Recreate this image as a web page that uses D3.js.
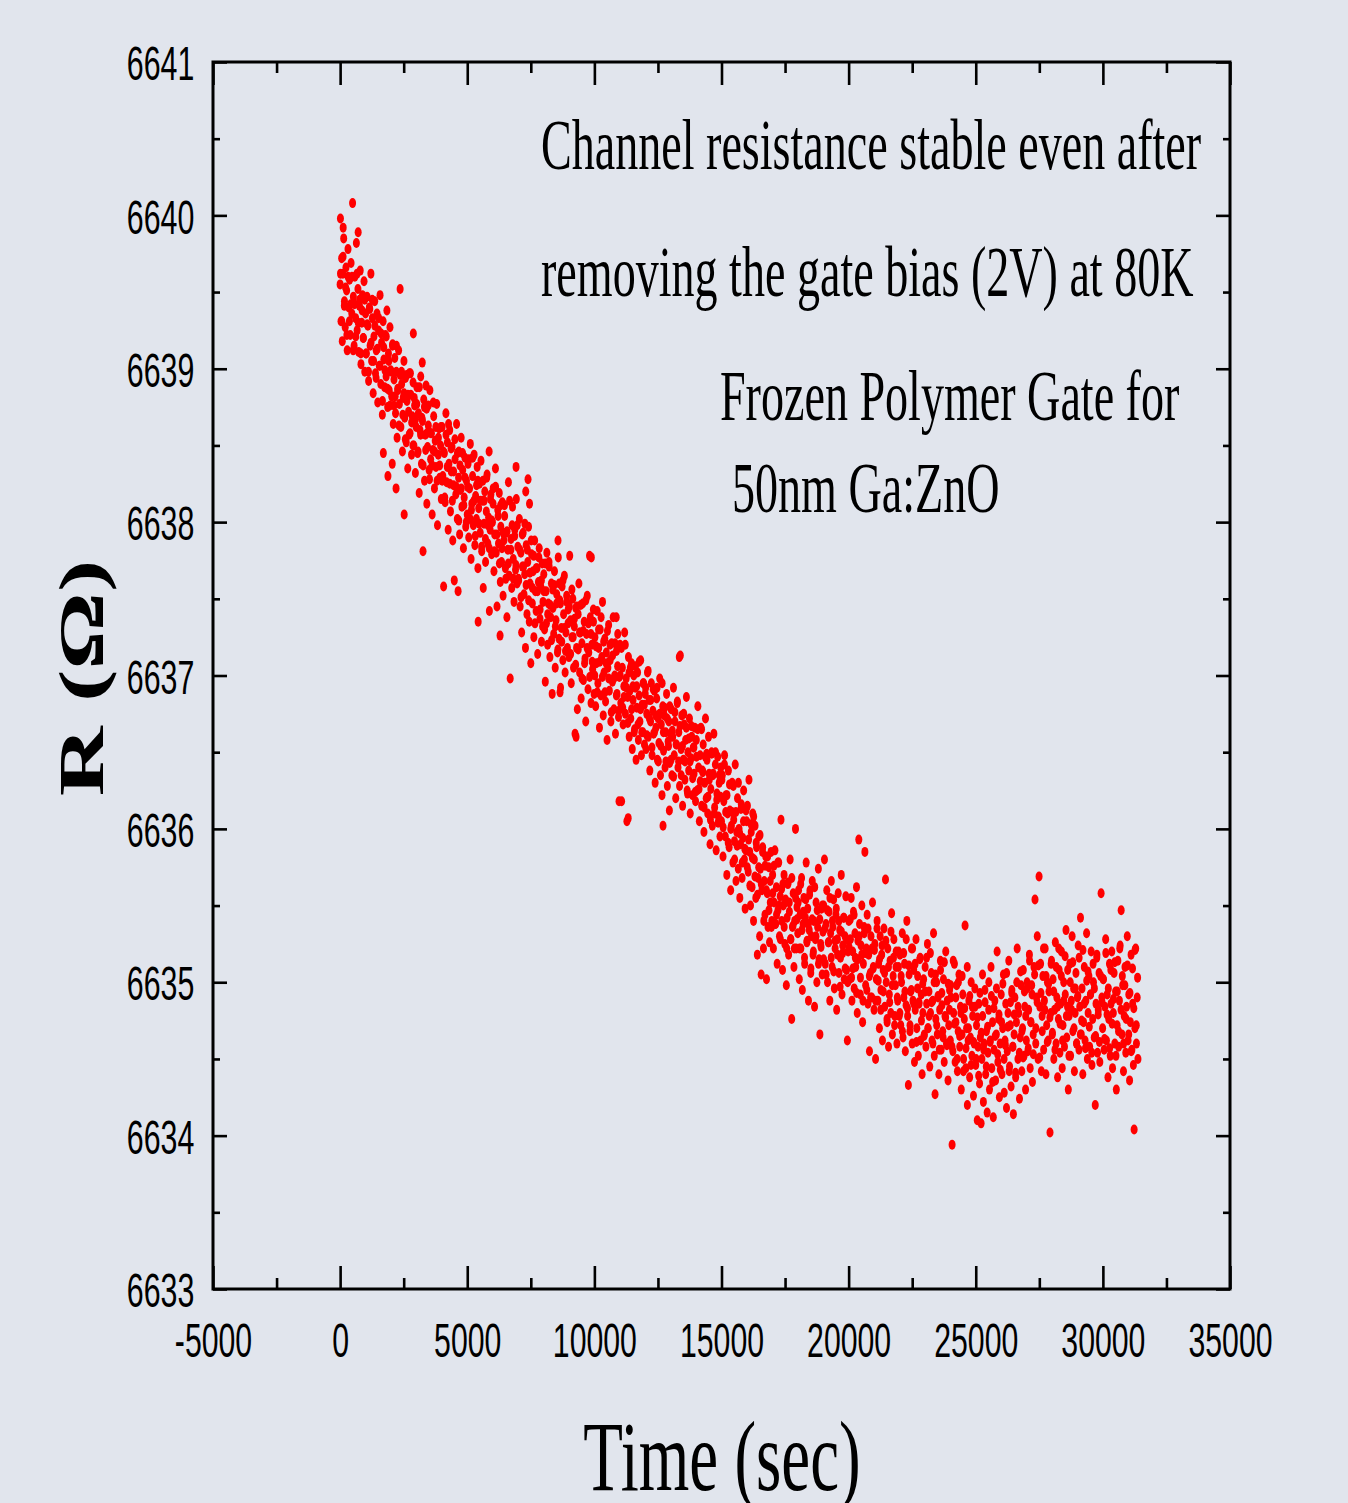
<!DOCTYPE html>
<html>
<head>
<meta charset="utf-8">
<script src="https://cdn.jsdelivr.net/npm/d3@7"></script>
<style>
html, body { margin: 0; padding: 0; background: #e1e5ed; }
svg { display: block; }
</style>
</head>
<body>
<div class="vis"></div>
<script>
// axis ticks
const xTicks = [-5000, 0, 5000, 10000, 15000, 20000, 25000, 30000, 35000];
const xMinorTicks = [-2500, 2500, 7500, 12500, 17500, 22500, 27500, 32500];
const yTicks = [6633, 6634, 6635, 6636, 6637, 6638, 6639, 6640, 6641];
const yMinorTicks = [6633.5, 6634.5, 6635.5, 6636.5, 6637.5, 6638.5, 6639.5, 6640.5];

const noteLines = [
    "Channel resistance stable even after",
    "removing the gate bias (2V) at 80K",
    "Frozen Polymer Gate for",
    "50nm Ga:ZnO"
];

// [time (sec), R (ohm)]
const readings = [
[0,6639.55],[12,6639.98],[35,6639.31],[60,6639.72],[85,6639.18],[110,6639.62],[120,6639.92],[140,6639.85],[170,6639.44],[200,6639.27],[230,6639.66],[255,6639.51],[280,6639.12],[310,6639.78],[340,6639.40],[370,6639.58],[400,6639.22],[430,6639.69],[460,6639.36],[490,6640.08],[520,6639.47],[550,6639.15],[580,6639.60],[610,6639.33],[640,6639.82],[670,6639.25],[700,6639.52],[710,6639.89],[730,6639.11],[760,6639.41],[790,6639.64],[820,6639.03],[850,6639.30],[880,6639.48],[910,6639.20],[940,6639.57],[970,6638.98],[1000,6639.36],
[1030,6639.10],[1060,6639.47],[1090,6639.28],[1120,6638.92],[1150,6639.40],[1180,6639.15],[1210,6639.62],[1240,6639.05],[1270,6639.33],[1300,6638.84],[1330,6639.21],[1360,6639.44],[1390,6638.97],[1420,6639.12],[1450,6639.36],[1480,6638.78],[1510,6639.25],[1540,6639.02],[1570,6639.48],[1600,6638.90],[1630,6639.17],[1660,6638.70],[1690,6639.31],[1700,6638.45],[1720,6639.06],[1750,6638.88],[1780,6639.22],[1810,6638.95],[1840,6639.38],[1870,6638.75],[1880,6638.30],[1900,6639.10],[1930,6638.86],[1960,6639.27],[1990,6638.99],
[2030,6638.82],[2050,6638.38],[2060,6639.15],[2090,6638.64],[2120,6638.93],[2150,6639.07],[2180,6638.71],[2200,6638.22],[2210,6638.98],[2240,6638.55],[2270,6638.86],[2300,6639.12],[2330,6638.77],[2360,6639.52],[2390,6638.62],[2420,6638.90],[2450,6638.46],[2480,6638.81],[2510,6639.05],[2520,6638.05],[2540,6638.68],[2570,6638.94],[2600,6638.52],[2630,6638.79],[2660,6638.35],[2690,6638.72],[2720,6638.97],[2750,6638.58],[2780,6638.83],[2810,6638.44],[2840,6638.69],[2870,6638.91],[2880,6639.23],[2900,6638.50],[2930,6638.76],[2960,6638.32],[2990,6638.62],
[3020,6638.88],[3050,6638.45],[3080,6638.71],[3110,6638.19],[3140,6638.60],[3170,6638.95],[3200,6638.38],[3230,6639.04],[3240,6638.66],[3260,6637.81],[3290,6638.80],[3320,6638.27],[3350,6638.57],[3380,6638.89],[3400,6638.74],[3410,6638.12],[3440,6638.49],[3470,6638.63],[3500,6638.34],[3530,6638.86],[3560,6638.41],[3590,6638.58],[3620,6638.05],[3650,6638.47],[3680,6638.69],[3710,6638.22],[3740,6638.53],[3770,6638.36],[3800,6638.77],[3830,6637.98],[3860,6638.44],[3890,6638.61],[3920,6638.29],[3950,6638.50],[3980,6638.15],
[4010,6638.62],[4040,6638.30],[4070,6637.58],[4100,6638.45],[4130,6638.13],[4160,6638.71],[4190,6638.26],[4220,6638.52],[4250,6637.95],[4280,6638.38],[4310,6638.60],[4340,6638.07],[4370,6638.33],[4400,6638.49],[4430,6637.88],[4460,6638.24],[4490,6637.62],[4520,6638.41],[4550,6638.18],[4580,6638.64],[4610,6638.02],[4640,6637.55],[4660,6638.29],[4670,6638.46],[4700,6637.92],[4730,6638.21],[4760,6638.55],[4790,6638.10],[4820,6638.34],[4850,6637.83],[4880,6638.16],[4910,6638.42],[4940,6637.97],[4970,6638.27],
[5000,6638.05],[5030,6638.38],[5060,6637.90],[5090,6638.22],[5120,6638.51],[5150,6637.76],[5180,6638.12],[5210,6638.30],[5240,6637.98],[5270,6638.44],[5300,6637.85],[5330,6638.17],[5360,6638.02],[5390,6638.36],[5420,6637.70],[5430,6637.35],[5450,6638.09],[5480,6638.25],[5510,6637.93],[5540,6638.40],[5570,6637.81],[5600,6638.14],[5630,6637.57],[5660,6637.99],[5690,6638.20],[5720,6637.74],[5750,6638.07],[5780,6638.31],[5810,6637.86],[5840,6638.03],[5860,6638.46],[5870,6637.42],[5900,6637.95],[5930,6638.18],[5960,6637.79],[5990,6638.00],
[6020,6638.22],[6050,6637.68],[6080,6637.92],[6110,6638.35],[6140,6637.80],[6170,6637.45],[6200,6638.08],[6230,6637.86],[6260,6638.19],[6290,6637.26],[6300,6637.61],[6320,6637.97],[6350,6637.74],[6380,6638.13],[6410,6637.52],[6440,6637.88],[6470,6638.04],[6500,6637.70],[6530,6637.93],[6560,6637.38],[6590,6637.82],[6620,6638.26],[6650,6637.65],[6690,6636.98],[6720,6637.89],[6750,6637.57],[6780,6638.10],[6810,6637.76],[6840,6637.48],[6870,6637.95],[6900,6637.69],[6920,6638.36],[6930,6638.15],[6960,6637.60],[6990,6637.84],
[7020,6637.62],[7050,6638.02],[7080,6637.45],[7110,6637.80],[7140,6637.28],[7170,6637.71],[7200,6637.93],[7230,6637.53],[7260,6637.66],[7290,6637.18],[7300,6638.20],[7320,6637.85],[7350,6637.40],[7380,6637.74],[7390,6638.28],[7410,6637.97],[7440,6637.35],[7450,6638.12],[7470,6637.60],[7500,6637.08],[7530,6637.79],[7560,6637.47],[7590,6637.68],[7620,6637.25],[7650,6637.88],[7680,6637.55],[7710,6637.42],[7740,6637.70],[7770,6637.14],[7800,6637.61],[7830,6637.83],[7860,6637.37],[7890,6637.58],[7920,6637.22],[7950,6637.73],[7980,6637.48],
[8010,6637.66],[8040,6637.30],[8070,6636.96],[8100,6637.55],[8130,6637.80],[8160,6637.20],[8190,6637.47],[8220,6637.71],[8250,6637.12],[8280,6637.38],[8310,6637.60],[8340,6636.88],[8370,6637.44],[8400,6637.27],[8430,6637.68],[8460,6637.05],[8490,6637.36],[8520,6637.53],[8550,6637.15],[8570,6637.88],[8580,6637.77],[8610,6637.24],[8640,6637.49],[8650,6636.89],[8670,6636.92],[8700,6637.31],[8730,6637.58],[8760,6637.10],[8790,6637.40],[8820,6637.65],[8850,6637.02],[8880,6637.28],[8910,6637.52],[8940,6637.18],[8970,6637.43],
[9000,6637.12],[9030,6637.78],[9060,6637.36],[9090,6636.95],[9120,6637.25],[9150,6637.50],[9180,6637.05],[9210,6637.32],[9240,6636.62],[9270,6637.44],[9280,6636.60],[9300,6637.18],[9330,6636.78],[9360,6637.40],[9390,6637.60],[9420,6637.02],[9450,6637.28],[9480,6636.85],[9510,6637.21],[9540,6637.47],[9570,6636.97],[9600,6637.35],[9630,6637.11],[9660,6636.70],[9690,6637.27],[9720,6637.52],[9750,6636.91],[9780,6637.15],[9810,6637.78],[9840,6637.38],[9870,6636.82],[9880,6637.77],[9900,6637.20],[9930,6637.04],[9960,6637.43],[9990,6636.88],
[10020,6637.25],[10050,6636.80],[10080,6637.08],[10110,6637.42],[10140,6636.95],[10170,6637.18],[10200,6636.66],[10230,6637.30],[10260,6636.87],[10290,6637.12],[10320,6637.48],[10350,6636.74],[10380,6637.02],[10410,6637.24],[10440,6636.83],[10470,6637.15],[10500,6636.58],[10530,6637.05],[10560,6637.33],[10590,6636.90],[10620,6637.10],[10650,6636.70],[10680,6637.21],[10710,6636.96],[10740,6637.38],[10770,6636.78],[10800,6637.00],[10830,6636.62],[10860,6637.38],[10870,6637.16],[10890,6636.88],[10920,6637.27],[10950,6636.73],[10970,6636.18],[10980,6636.99],
[11010,6637.20],[11040,6636.82],[11070,6636.18],[11100,6637.05],[11130,6636.68],[11160,6636.93],[11190,6637.28],[11220,6636.75],[11250,6636.98],[11280,6636.05],[11310,6636.86],[11330,6636.07],[11340,6637.12],[11370,6636.60],[11400,6636.90],[11430,6636.72],[11460,6637.08],[11490,6636.52],[11520,6636.84],[11550,6637.00],[11580,6636.65],[11610,6636.92],[11640,6636.45],[11670,6636.79],[11700,6637.02],[11730,6636.58],[11760,6636.87],[11790,6636.70],[11820,6637.10],[11850,6636.48],[11880,6636.81],[11910,6636.63],[11940,6636.95],[11970,6636.55],
[12000,6636.88],[12030,6636.52],[12060,6636.75],[12090,6637.02],[12120,6636.60],[12150,6636.84],[12180,6636.38],[12210,6636.70],[12240,6636.95],[12270,6636.48],[12300,6636.77],[12330,6636.62],[12360,6636.90],[12390,6636.30],[12420,6636.66],[12450,6636.85],[12480,6636.45],[12510,6636.72],[12540,6636.56],[12570,6636.98],[12600,6636.35],[12630,6636.68],[12660,6636.22],[12690,6636.80],[12700,6636.02],[12720,6636.51],[12750,6636.74],[12780,6636.40],[12810,6636.63],[12840,6636.88],[12870,6636.28],[12900,6636.57],[12930,6636.70],[12950,6636.12],[12960,6636.43],[12990,6636.62],
[13020,6636.78],[13050,6636.35],[13080,6636.60],[13110,6636.92],[13140,6636.48],[13170,6636.70],[13200,6636.20],[13230,6636.55],[13260,6636.82],[13290,6636.40],[13320,6636.63],[13340,6637.12],[13350,6636.28],[13380,6637.13],[13410,6636.52],[13440,6636.74],[13470,6636.15],[13500,6636.45],[13530,6636.68],[13560,6636.32],[13590,6636.58],[13620,6636.86],[13650,6636.25],[13680,6636.50],[13710,6636.38],[13740,6636.72],[13770,6636.10],[13800,6636.46],[13830,6636.60],[13860,6636.22],[13890,6636.53],[13920,6636.36],[13950,6636.66],[13980,6636.18],
[14010,6636.58],[14040,6636.25],[14070,6636.80],[14100,6636.40],[14130,6636.05],[14160,6636.48],[14190,6636.66],[14220,6636.15],[14250,6636.38],[14280,6636.55],[14310,6635.98],[14340,6636.30],[14370,6636.72],[14400,6636.20],[14430,6636.45],[14460,6636.10],[14490,6636.60],[14520,6636.32],[14550,6635.90],[14580,6636.26],[14610,6636.50],[14640,6636.02],[14670,6636.36],[14700,6636.62],[14730,6636.14],[14760,6636.42],[14790,6635.86],[14820,6636.23],[14850,6636.47],[14880,6636.08],[14910,6636.30],[14940,6635.95],[14970,6636.40],
[15000,6636.05],[15030,6636.35],[15060,6635.82],[15090,6636.18],[15120,6636.48],[15150,6635.95],[15180,6636.22],[15210,6635.70],[15240,6636.10],[15270,6636.38],[15300,6635.88],[15330,6636.12],[15360,6635.60],[15390,6636.02],[15420,6636.30],[15450,6635.78],[15480,6636.06],[15510,6635.92],[15540,6636.42],[15570,6635.66],[15600,6635.98],[15630,6636.20],[15660,6635.74],[15690,6636.00],[15720,6635.55],[15750,6635.90],[15780,6636.16],[15810,6635.68],[15840,6635.94],[15870,6636.25],[15900,6635.80],[15930,6635.48],[15960,6635.86],[15990,6636.05],
[16020,6636.15],[16050,6635.72],[16080,6636.32],[16110,6635.85],[16140,6635.50],[16170,6635.98],[16200,6635.62],[16230,6636.10],[16260,6635.40],[16290,6635.80],[16320,6636.02],[16350,6635.55],[16380,6635.88],[16410,6635.18],[16440,6635.68],[16470,6635.95],[16500,6635.30],[16530,6635.74],[16560,6635.05],[16590,6635.60],[16620,6635.88],[16650,6635.22],[16680,6635.66],[16710,6635.44],[16740,6635.82],[16770,6635.02],[16800,6635.58],[16830,6635.36],[16860,6635.75],[16890,6635.26],[16920,6635.52],[16950,6635.85],[16980,6635.40],
[17010,6635.70],[17040,6635.22],[17070,6635.52],[17100,6635.86],[17130,6635.38],[17160,6635.62],[17190,6635.12],[17220,6635.47],[17250,6635.78],[17280,6635.30],[17310,6635.56],[17340,6636.06],[17370,6635.40],[17400,6635.08],[17430,6635.50],[17460,6635.70],[17490,6635.25],[17520,6635.54],[17550,6634.98],[17580,6635.42],[17610,6635.64],[17640,6635.18],[17670,6635.46],[17700,6635.80],[17730,6635.28],[17760,6634.76],[17790,6635.36],[17820,6635.58],[17850,6635.10],[17880,6635.40],[17910,6636.00],[17940,6635.22],[17970,6635.49],
[18000,6635.32],[18030,6635.60],[18060,6635.02],[18090,6635.44],[18120,6635.22],[18150,6635.68],[18180,6634.95],[18210,6635.38],[18240,6635.55],[18270,6635.12],[18300,6635.42],[18330,6635.78],[18360,6635.26],[18390,6635.48],[18420,6634.88],[18450,6635.34],[18480,6635.60],[18510,6635.06],[18540,6635.30],[18570,6635.66],[18600,6635.18],[18630,6635.40],[18660,6634.84],[18690,6635.28],[18720,6635.52],[18750,6635.00],[18780,6635.36],[18810,6635.74],[18840,6635.15],[18870,6634.66],[18900,6635.25],[18930,6635.48],[18960,6635.05],[18990,6635.33],
[19020,6635.50],[19050,6635.80],[19080,6635.12],[19110,6635.38],[19140,6635.60],[19170,6635.00],[19200,6635.26],[19230,6635.46],[19260,6634.88],[19290,6635.32],[19320,6635.66],[19350,6635.10],[19380,6635.36],[19410,6635.54],[19440,6634.96],[19470,6635.22],[19500,6635.44],[19530,6634.82],[19560,6635.28],[19590,6635.58],[19620,6635.06],[19650,6635.34],[19680,6635.16],[19710,6635.70],[19740,6634.92],[19770,6635.24],[19800,6635.42],[19830,6635.02],[19860,6635.30],[19890,6635.56],[19920,6635.08],[19950,6634.62],[19980,6635.20],
[20010,6635.40],[20040,6635.02],[20070,6635.28],[20100,6635.55],[20130,6634.88],[20160,6635.20],[20190,6635.46],[20220,6634.96],[20250,6635.32],[20280,6635.10],[20310,6635.62],[20340,6634.80],[20370,6635.15],[20400,6635.93],[20430,6635.38],[20460,6634.92],[20490,6635.24],[20520,6635.50],[20550,6634.74],[20580,6635.12],[20610,6635.36],[20640,6635.85],[20670,6634.98],[20700,6635.22],[20730,6635.44],[20760,6634.86],[20790,6635.18],[20820,6634.55],[20850,6635.06],[20880,6635.30],[20910,6634.90],[20940,6635.52],[20970,6635.10],
[21000,6634.82],[21030,6635.25],[21060,6634.50],[21090,6635.02],[21120,6635.40],[21150,6634.88],[21180,6635.12],[21210,6634.70],[21240,6635.30],[21270,6634.95],[21300,6635.18],[21330,6634.62],[21360,6635.08],[21390,6635.35],[21420,6634.84],[21450,6635.67],[21480,6635.00],[21510,6634.76],[21540,6635.22],[21570,6634.58],[21600,6634.92],[21630,6635.14],[21660,6634.80],[21690,6635.45],[21720,6634.66],[21750,6635.04],[21780,6635.28],[21810,6634.72],[21840,6634.98],[21870,6635.20],[21900,6634.60],[21930,6634.88],[21960,6635.10],[21990,6634.78],
[22020,6635.18],[22050,6634.72],[22080,6635.00],[22110,6635.32],[22140,6634.64],[22170,6634.90],[22200,6635.12],[22230,6634.55],[22260,6634.85],[22290,6635.40],[22320,6634.78],[22350,6634.33],[22380,6635.05],[22410,6634.68],[22440,6634.94],[22470,6635.22],[22500,6634.60],[22530,6634.88],[22560,6635.08],[22590,6634.48],[22620,6634.82],[22650,6635.28],[22680,6634.70],[22710,6634.96],[22740,6634.52],[22770,6634.86],[22800,6635.15],[22830,6634.62],[22860,6634.92],[22890,6634.40],[22920,6634.80],[22950,6635.02],[22980,6634.66],
[23010,6635.10],[23040,6634.58],[23070,6634.86],[23100,6635.25],[23130,6634.70],[23160,6634.94],[23190,6634.45],[23220,6634.80],[23250,6635.06],[23280,6634.62],[23310,6634.88],[23340,6635.32],[23370,6634.52],[23400,6634.27],[23430,6634.76],[23460,6635.00],[23490,6634.66],[23520,6634.90],[23550,6634.40],[23580,6634.82],[23610,6635.14],[23640,6634.56],[23670,6634.85],[23700,6634.68],[23730,6635.02],[23760,6634.48],[23790,6634.78],[23820,6635.20],[23850,6634.60],[23880,6634.88],[23910,6634.36],[23940,6634.72],[23970,6634.95],
[24000,6634.62],[24030,6634.90],[24070,6633.94],[24100,6634.55],[24130,6634.80],[24160,6635.12],[24190,6634.48],[24220,6634.74],[24250,6634.98],[24280,6634.42],[24310,6634.68],[24340,6635.05],[24370,6634.58],[24400,6634.84],[24430,6634.30],[24460,6634.66],[24490,6634.92],[24520,6634.50],[24550,6634.76],[24580,6635.37],[24610,6634.44],[24640,6634.70],[24670,6634.20],[24700,6634.62],[24730,6634.88],[24760,6634.38],[24790,6634.64],[24820,6635.00],[24850,6634.52],[24880,6634.78],[24910,6634.26],[24940,6634.60],[24970,6634.84],
[25000,6634.46],[25030,6634.72],[25060,6634.10],[25090,6634.58],[25120,6634.86],[25150,6634.34],[25180,6634.64],[25210,6634.08],[25240,6634.50],[25270,6634.78],[25300,6634.22],[25330,6634.60],[25360,6634.95],[25390,6634.40],[25420,6634.68],[25450,6634.15],[25480,6634.54],[25510,6634.82],[25540,6634.30],[25570,6634.62],[25600,6635.10],[25630,6634.44],[25660,6634.74],[25690,6634.12],[25720,6634.56],[25750,6634.88],[25780,6634.36],[25810,6634.66],[25840,6635.20],[25870,6634.48],[25900,6634.76],[25930,6634.25],[25960,6634.60],
[26000,6634.92],[26030,6634.40],[26060,6634.70],[26090,6635.05],[26120,6634.28],[26150,6634.62],[26180,6634.86],[26210,6634.18],[26240,6634.55],[26270,6634.80],[26300,6635.14],[26330,6634.45],[26360,6634.72],[26390,6634.32],[26420,6634.95],[26450,6634.58],[26480,6634.14],[26510,6634.66],[26540,6634.90],[26570,6634.38],[26600,6634.74],[26630,6635.22],[26660,6634.50],[26690,6634.80],[26720,6634.24],[26750,6634.64],[26780,6634.98],[26810,6634.42],[26840,6634.70],[26870,6635.08],[26900,6634.52],[26930,6634.84],[26960,6634.30],[26990,6634.62],
[27020,6635.00],[27050,6634.55],[27080,6634.82],[27110,6635.18],[27140,6634.44],[27170,6634.74],[27200,6634.98],[27230,6634.35],[27260,6634.66],[27290,6635.10],[27330,6635.54],[27360,6634.60],[27390,6634.90],[27420,6635.30],[27450,6634.50],[27490,6635.69],[27520,6634.84],[27550,6635.12],[27580,6634.42],[27610,6634.78],[27640,6635.04],[27670,6634.56],[27700,6634.88],[27730,6635.22],[27760,6634.40],[27790,6634.72],[27820,6635.00],[27850,6634.62],[27880,6634.94],[27920,6634.02],[27950,6634.80],[27980,6635.14],
[28010,6634.66],[28040,6635.02],[28070,6634.50],[28100,6634.82],[28130,6635.26],[28160,6634.60],[28190,6634.90],[28220,6634.38],[28250,6634.76],[28280,6635.08],[28310,6634.54],[28340,6634.86],[28370,6635.20],[28400,6634.44],[28430,6634.72],[28460,6635.00],[28490,6634.58],[28520,6634.92],[28550,6635.34],[28580,6634.64],[28610,6634.84],[28640,6634.30],[28670,6634.78],[28700,6635.12],[28730,6634.52],[28760,6634.88],[28790,6635.30],[28820,6634.68],[28850,6634.96],[28880,6634.42],[28910,6634.80],[28940,6635.06],[28970,6634.60],
[29000,6634.90],[29030,6635.24],[29060,6634.56],[29090,6634.84],[29120,6635.42],[29150,6634.66],[29180,6634.96],[29210,6634.40],[29240,6634.74],[29270,6635.10],[29300,6634.62],[29330,6634.88],[29360,6635.32],[29390,6634.50],[29420,6634.80],[29450,6635.04],[29480,6634.58],[29510,6634.92],[29540,6635.20],[29570,6634.46],[29600,6634.76],[29630,6635.00],[29660,6634.64],[29700,6634.20],[29730,6634.86],[29760,6635.16],[29790,6634.54],[29820,6634.82],[29850,6635.06],[29880,6634.48],[29930,6635.58],[29960,6634.90],[29990,6634.70],
[30020,6635.02],[30050,6634.56],[30080,6634.84],[30110,6635.28],[30140,6634.62],[30170,6634.92],[30200,6634.38],[30230,6634.76],[30260,6635.12],[30290,6634.52],[30320,6634.86],[30350,6635.20],[30380,6634.44],[30410,6634.80],[30440,6635.06],[30470,6634.60],[30500,6634.94],[30530,6634.30],[30560,6634.72],[30590,6635.14],[30620,6634.58],[30650,6634.88],[30680,6635.24],[30720,6635.47],[30750,6634.66],[30780,6634.98],[30810,6634.42],[30840,6634.78],[30870,6635.10],[30900,6634.54],[30930,6634.84],[30960,6635.30],[30990,6634.62],
[31020,6634.92],[31050,6634.36],[31080,6634.74],[31110,6635.18],[31140,6634.56],[31170,6634.86],[31200,6634.46],[31230,6634.04],[31260,6634.70],[31290,6635.22],[31320,6634.60],[31350,6634.90],[31380,6634.50]
];

// in-between readings that fill the dense core of the band
const readingsCore = [
[15,6639.62],[65,6639.31],[115,6639.73],[165,6639.41],[215,6639.53],[265,6639.22],[315,6639.60],[365,6639.31],[415,6639.42],[465,6639.60],[515,6639.12],[565,6639.42],[615,6639.21],[665,6639.62],[715,6639.30],[765,6639.45],[815,6639.10],[865,6639.38],[915,6639.20],[965,6639.45],
[1015,6639.10],[1065,6639.29],[1115,6638.98],[1165,6639.39],[1215,6639.17],[1265,6639.45],[1315,6639.05],[1365,6639.28],[1415,6638.94],[1465,6639.13],[1515,6639.33],[1565,6639.02],[1615,6639.23],[1665,6638.79],[1715,6639.14],[1765,6638.99],[1815,6639.21],[1865,6638.87],[1915,6639.05],[1965,6638.76],
[2015,6638.98],[2065,6639.16],[2115,6638.76],[2165,6638.82],[2215,6639.15],[2265,6638.87],[2315,6638.63],[2365,6638.96],[2415,6638.98],[2465,6638.70],[2515,6638.84],[2565,6638.54],[2615,6638.96],[2665,6638.83],[2715,6638.57],[2765,6638.97],[2815,6638.65],[2865,6638.50],[2915,6638.81],[2965,6638.67],
[3015,6638.77],[3065,6638.46],[3115,6638.88],[3165,6638.57],[3215,6638.68],[3265,6638.37],[3315,6638.75],[3365,6638.47],[3415,6638.58],[3465,6638.76],[3515,6638.28],[3565,6638.58],[3615,6638.37],[3665,6638.78],[3715,6638.46],[3765,6638.62],[3815,6638.27],[3865,6638.55],[3915,6638.37],[3965,6638.62],
[4015,6638.27],[4065,6638.46],[4115,6638.16],[4165,6638.57],[4215,6638.36],[4265,6638.64],[4315,6638.25],[4365,6638.48],[4415,6638.14],[4465,6638.33],[4515,6638.54],[4565,6638.23],[4615,6638.45],[4665,6638.01],[4715,6638.37],[4765,6638.22],[4815,6638.45],[4865,6638.11],[4915,6638.29],[4965,6638.00],
[5015,6638.23],[5065,6638.41],[5115,6638.02],[5165,6638.08],[5215,6638.42],[5265,6638.14],[5315,6637.91],[5365,6638.24],[5415,6638.27],[5465,6637.99],[5515,6638.14],[5565,6637.84],[5615,6638.27],[5665,6638.14],[5715,6637.89],[5765,6638.29],[5815,6637.98],[5865,6637.83],[5915,6638.15],[5965,6638.01],
[6015,6638.12],[6065,6637.81],[6115,6638.23],[6165,6637.92],[6215,6638.04],[6265,6637.73],[6315,6638.11],[6365,6637.83],[6415,6637.93],[6465,6638.11],[6515,6637.63],[6565,6637.94],[6615,6637.73],[6665,6638.14],[6715,6637.82],[6765,6637.98],[6815,6637.63],[6865,6637.91],[6915,6637.72],[6965,6637.98],
[7015,6637.63],[7065,6637.82],[7115,6637.51],[7165,6637.92],[7215,6637.71],[7265,6637.99],[7315,6637.59],[7365,6637.82],[7415,6637.49],[7465,6637.67],[7515,6637.88],[7565,6637.57],[7615,6637.78],[7665,6637.34],[7715,6637.70],[7765,6637.55],[7815,6637.77],[7865,6637.43],[7915,6637.62],[7965,6637.32],
[8015,6637.55],[8065,6637.73],[8115,6637.34],[8165,6637.40],[8215,6637.74],[8265,6637.46],[8315,6637.23],[8365,6637.56],[8415,6637.59],[8465,6637.32],[8515,6637.47],[8565,6637.17],[8615,6637.60],[8665,6637.47],[8715,6637.22],[8765,6637.62],[8815,6637.31],[8865,6637.16],[8915,6637.48],[8965,6637.34],
[9015,6637.45],[9065,6637.14],[9115,6637.56],[9165,6637.25],[9215,6637.37],[9265,6637.07],[9315,6637.45],[9365,6637.17],[9415,6637.28],[9465,6637.46],[9515,6636.98],[9565,6637.29],[9615,6637.08],[9665,6637.49],[9715,6637.18],[9765,6637.34],[9815,6636.99],[9865,6637.27],[9915,6637.09],[9965,6637.35],
[10015,6637.00],[10065,6637.19],[10115,6636.89],[10165,6637.30],[10215,6637.09],[10265,6637.38],[10315,6636.99],[10365,6637.22],[10415,6636.89],[10465,6637.08],[10515,6637.29],[10565,6636.98],[10615,6637.20],[10665,6636.76],[10715,6637.13],[10765,6636.98],[10815,6637.21],[10865,6636.87],[10915,6637.06],[10965,6636.77],
[11015,6637.00],[11065,6637.18],[11115,6636.79],[11165,6636.86],[11215,6637.20],[11265,6636.92],[11315,6636.69],[11365,6637.02],[11415,6637.05],[11465,6636.78],[11515,6636.93],[11565,6636.63],[11615,6637.06],[11665,6636.93],[11715,6636.68],[11765,6637.09],[11815,6636.78],[11865,6636.63],[11915,6636.95],[11965,6636.81],
[12015,6636.92],[12065,6636.61],[12115,6637.03],[12165,6636.72],[12215,6636.84],[12265,6636.53],[12315,6636.91],[12365,6636.63],[12415,6636.74],[12465,6636.92],[12515,6636.44],[12565,6636.75],[12615,6636.54],[12665,6636.95],[12715,6636.63],[12765,6636.79],[12815,6636.44],[12865,6636.72],[12915,6636.54],[12965,6636.80],
[13015,6636.45],[13065,6636.64],[13115,6636.34],[13165,6636.76],[13215,6636.55],[13265,6636.83],[13315,6636.44],[13365,6636.67],[13415,6636.35],[13465,6636.54],[13515,6636.75],[13565,6636.44],[13615,6636.66],[13665,6636.23],[13715,6636.59],[13765,6636.44],[13815,6636.67],[13865,6636.33],[13915,6636.53],[13965,6636.24],
[14015,6636.47],[14065,6636.65],[14115,6636.26],[14165,6636.31],[14215,6636.65],[14265,6636.37],[14315,6636.14],[14365,6636.47],[14415,6636.49],[14465,6636.21],[14515,6636.36],[14565,6636.06],[14615,6636.49],[14665,6636.35],[14715,6636.10],[14765,6636.50],[14815,6636.19],[14865,6636.04],[14915,6636.35],[14965,6636.21],
[15015,6636.32],[15065,6636.01],[15115,6636.42],[15165,6636.11],[15215,6636.22],[15265,6635.91],[15315,6636.29],[15365,6636.00],[15415,6636.11],[15465,6636.28],[15515,6635.80],[15565,6636.11],[15615,6635.89],[15665,6636.30],[15715,6635.97],[15765,6636.13],[15815,6635.78],[15865,6636.05],[15915,6635.87],[15965,6636.12],
[16015,6635.75],[16065,6635.93],[16115,6635.63],[16165,6636.03],[16215,6635.81],[16265,6636.08],[16315,6635.69],[16365,6635.91],[16415,6635.57],[16465,6635.75],[16515,6635.96],[16565,6635.64],[16615,6635.85],[16665,6635.40],[16715,6635.76],[16765,6635.60],[16815,6635.82],[16865,6635.47],[16915,6635.66],[16965,6635.36],
[17015,6635.58],[17065,6635.76],[17115,6635.38],[17165,6635.44],[17215,6635.78],[17265,6635.50],[17315,6635.28],[17365,6635.61],[17415,6635.64],[17465,6635.36],[17515,6635.52],[17565,6635.22],[17615,6635.65],[17665,6635.52],[17715,6635.28],[17765,6635.68],[17815,6635.37],[17865,6635.22],[17915,6635.55],[17965,6635.41],
[18015,6635.52],[18065,6635.22],[18115,6635.64],[18165,6635.34],[18215,6635.46],[18265,6635.16],[18315,6635.54],[18365,6635.27],[18415,6635.38],[18465,6635.57],[18515,6635.09],[18565,6635.41],[18615,6635.20],[18665,6635.62],[18715,6635.30],[18765,6635.47],[18815,6635.12],[18865,6635.41],[18915,6635.23],[18965,6635.50],
[19015,6635.15],[19065,6635.35],[19115,6635.05],[19165,6635.47],[19215,6635.26],[19265,6635.55],[19315,6635.16],[19365,6635.40],[19415,6635.07],[19465,6635.27],[19515,6635.48],[19565,6635.18],[19615,6635.40],[19665,6634.97],[19715,6635.33],[19765,6635.19],[19815,6635.42],[19865,6635.09],[19915,6635.28],[19965,6635.00],
[20015,6635.23],[20065,6635.41],[20115,6635.03],[20165,6635.09],[20215,6635.44],[20265,6635.16],[20315,6634.93],[20365,6635.27],[20415,6635.30],[20465,6635.03],[20515,6635.18],[20565,6634.88],[20615,6635.32],[20665,6635.19],[20715,6634.95],[20765,6635.35],[20815,6635.04],[20865,6634.90],[20915,6635.22],[20965,6635.09],
[21015,6635.21],[21065,6634.88],[21115,6635.35],[21165,6635.01],[21215,6635.15],[21265,6634.82],[21315,6635.24],[21365,6634.94],[21415,6635.06],[21465,6635.27],[21515,6634.74],[21565,6635.10],[21615,6634.87],[21665,6635.33],[21715,6634.98],[21765,6635.16],[21815,6634.78],[21865,6635.10],[21915,6634.90],[21965,6635.20],
[22015,6634.80],[22065,6635.04],[22115,6634.68],[22165,6635.19],[22215,6634.94],[22265,6635.28],[22315,6634.83],[22365,6635.11],[22415,6634.72],[22465,6634.95],[22515,6635.22],[22565,6634.86],[22615,6635.12],[22665,6634.61],[22715,6635.04],[22765,6634.87],[22815,6635.16],[22865,6634.75],[22915,6634.99],[22965,6634.65],
[23015,6634.94],[23065,6635.16],[23115,6634.70],[23165,6634.78],[23215,6635.19],[23265,6634.87],[23315,6634.60],[23365,6635.00],[23415,6635.05],[23465,6634.72],[23515,6634.91],[23565,6634.56],[23615,6635.08],[23665,6634.93],[23715,6634.64],[23765,6635.13],[23815,6634.77],[23865,6634.59],[23915,6634.99],[23965,6634.82],
[24015,6634.98],[24065,6634.58],[24115,6635.14],[24165,6634.73],[24215,6634.90],[24265,6634.50],[24315,6635.00],[24365,6634.65],[24415,6634.80],[24465,6635.04],[24515,6634.42],[24565,6634.83],[24615,6634.57],[24665,6635.10],[24715,6634.70],[24765,6634.91],[24815,6634.46],[24865,6634.84],[24915,6634.61],[24965,6634.96],
[25015,6634.50],[25065,6634.77],[25115,6634.39],[25165,6634.93],[25215,6634.67],[25265,6635.05],[25315,6634.56],[25365,6634.87],[25415,6634.45],[25465,6634.71],[25515,6635.00],[25565,6634.61],[25615,6634.91],[25665,6634.35],[25715,6634.83],[25765,6634.65],[25815,6634.96],[25865,6634.53],[25915,6634.79],[25965,6634.43],
[26015,6634.74],[26065,6634.99],[26115,6634.50],[26165,6634.59],[26215,6635.06],[26265,6634.71],[26315,6634.42],[26365,6634.87],[26415,6634.93],[26465,6634.58],[26515,6634.79],[26565,6634.41],[26615,6635.00],[26665,6634.84],[26715,6634.54],[26765,6635.07],[26815,6634.68],[26865,6634.51],[26915,6634.94],[26965,6634.78],
[27015,6634.96],[27065,6634.57],[27115,6635.14],[27165,6634.74],[27215,6634.92],[27265,6634.53],[27315,6635.05],[27365,6634.70],[27415,6634.87],[27465,6635.11],[27515,6634.51],[27565,6634.93],[27615,6634.68],[27665,6635.22],[27715,6634.82],[27765,6635.04],[27815,6634.61],[27865,6634.99],[27915,6634.77],[27965,6635.12],
[28015,6634.67],[28065,6634.94],[28115,6634.56],[28165,6635.10],[28215,6634.84],[28265,6635.22],[28315,6634.73],[28365,6635.04],[28415,6634.62],[28465,6634.88],[28515,6635.17],[28565,6634.78],[28615,6635.08],[28665,6634.52],[28715,6635.00],[28765,6634.82],[28815,6635.13],[28865,6634.70],[28915,6634.96],[28965,6634.60],
[29015,6634.91],[29065,6635.16],[29115,6634.66],[29165,6634.75],[29215,6635.21],[29265,6634.86],[29315,6634.57],[29365,6635.01],[29415,6635.07],[29465,6634.71],[29515,6634.92],[29565,6634.54],[29615,6635.12],[29665,6634.96],[29715,6634.65],[29765,6635.18],[29815,6634.79],[29865,6634.61],[29915,6635.04],[29965,6634.87],
[30015,6635.02],[30065,6634.63],[30115,6635.19],[30165,6634.79],[30215,6634.96],[30265,6634.57],[30315,6635.08],[30365,6634.73],[30415,6634.89],[30465,6635.13],[30515,6634.52],[30565,6634.94],[30615,6634.68],[30665,6635.22],[30715,6634.82],[30765,6635.04],[30815,6634.60],[30865,6634.98],[30915,6634.76],[30965,6635.11],
[31015,6634.66],[31065,6634.93],[31115,6634.55],[31165,6635.09],[31215,6634.83],[31265,6635.21],[31315,6634.72],[31365,6635.03]
];

(function () {
    const svgWidth = 1348;
    const svgHeight = 1503;

    var margin = {
        top: 62,
        right: 118,
        bottom: 214,
        left: 213
    };

    const svg = d3.select('.vis')
        .append('svg')
            .attr('width', svgWidth)
            .attr('height', svgHeight);

    svg.append('rect')
        .attr('width', svgWidth)
        .attr('height', svgHeight)
        .attr('fill', '#e1e5ed');

    var xScale = d3.scaleLinear()
        .domain([-5000, 35000])
        .range([margin.left, svgWidth - margin.right]);

    var yScale = d3.scaleLinear()
        .domain([6633, 6641])
        .range([svgHeight - margin.bottom, margin.top]);

    var plotBottom = yScale(6633);
    var plotRight = xScale(35000);

    var allReadings = readings.concat(readingsCore);

    // the scatter
    svg.append('g')
        .selectAll('ellipse')
        .data(allReadings)
        .enter().append('ellipse')
            .attr('cx', function(d) { return xScale(d[0]); })
            .attr('cy', function(d) { return yScale(d[1]); })
            .attr('rx', 3.5)
            .attr('ry', 5)
            .attr('fill', '#ff0000');

    // tick helper: ticks point inward, no domain line
    function addTicks(axis, transform) {
        var g = svg.append('g')
            .attr('transform', transform)
            .call(axis);
        g.select('.domain').remove();
        g.selectAll('line')
            .attr('stroke', '#000')
            .attr('stroke-width', 2.6);
        return g;
    }

    var bottom = addTicks(d3.axisBottom(xScale).tickValues(xTicks).tickSize(-23).tickSizeOuter(0)
        .tickFormat(function(d) { return String(d); }), `translate(0, ${plotBottom})`);
    bottom.selectAll('text')
        .attr('y', 68)
        .attr('dy', null)
        .attr('fill', '#000')
        .attr('font-family', 'Liberation Sans, Arial, sans-serif')
        .attr('font-size', 48)
        .attr('transform', 'scale(0.63,1)');
    addTicks(d3.axisBottom(xScale).tickValues(xMinorTicks).tickSize(-11).tickSizeOuter(0).tickFormat(''),
        `translate(0, ${plotBottom})`);

    addTicks(d3.axisTop(xScale).tickValues(xTicks).tickSize(-23).tickSizeOuter(0).tickFormat(''),
        `translate(0, ${margin.top})`);
    addTicks(d3.axisTop(xScale).tickValues(xMinorTicks).tickSize(-11).tickSizeOuter(0).tickFormat(''),
        `translate(0, ${margin.top})`);

    var left = addTicks(d3.axisLeft(yScale).tickValues(yTicks).tickSize(-14).tickSizeOuter(0)
        .tickFormat(function(d) { return String(d); }), `translate(${margin.left}, 0)`);
    left.selectAll('text')
        .attr('x', -30)
        .attr('dy', '0.36em')
        .attr('fill', '#000')
        .attr('font-family', 'Liberation Sans, Arial, sans-serif')
        .attr('font-size', 49)
        .attr('transform', 'scale(0.62,1)');
    addTicks(d3.axisLeft(yScale).tickValues(yMinorTicks).tickSize(-7).tickSizeOuter(0).tickFormat(''),
        `translate(${margin.left}, 0)`);

    addTicks(d3.axisRight(yScale).tickValues(yTicks).tickSize(-14).tickSizeOuter(0).tickFormat(''),
        `translate(${plotRight}, 0)`);
    addTicks(d3.axisRight(yScale).tickValues(yMinorTicks).tickSize(-7).tickSizeOuter(0).tickFormat(''),
        `translate(${plotRight}, 0)`);

    // frame
    svg.append('rect')
        .attr('x', margin.left)
        .attr('y', margin.top)
        .attr('width', plotRight - margin.left)
        .attr('height', plotBottom - margin.top)
        .attr('fill', 'none')
        .attr('stroke', '#000')
        .attr('stroke-width', 3);

    // axis titles
    svg.append('text')
        .attr('transform', `translate(722, 1490) scale(0.65,1)`)
        .attr('text-anchor', 'middle')
        .attr('font-family', 'Liberation Serif, Times New Roman, serif')
        .attr('font-size', 100)
        .attr('fill', '#000')
        .text('Time (sec)');

    svg.append('text')
        .attr('transform', `translate(103, 678) scale(0.65,1) rotate(-90)`)
        .attr('text-anchor', 'middle')
        .attr('font-family', 'Liberation Serif, Times New Roman, serif')
        .attr('font-weight', 'bold')
        .attr('font-size', 97)
        .attr('fill', '#000')
        .text('R (\u03A9)');

    // annotation
    var noteX = [541, 541, 720, 732];
    var noteY = [169, 296, 420, 512];
    svg.append('g')
        .selectAll('text')
        .data(noteLines)
        .enter().append('text')
            .attr('transform', function(d, i) { return `translate(${noteX[i]}, ${noteY[i]}) scale(0.64,1)`; })
            .attr('font-family', 'Liberation Serif, Times New Roman, serif')
            .attr('font-size', 72)
            .attr('fill', '#000')
            .text(function(d) { return d; });

} (d3));
</script>
</body>
</html>
